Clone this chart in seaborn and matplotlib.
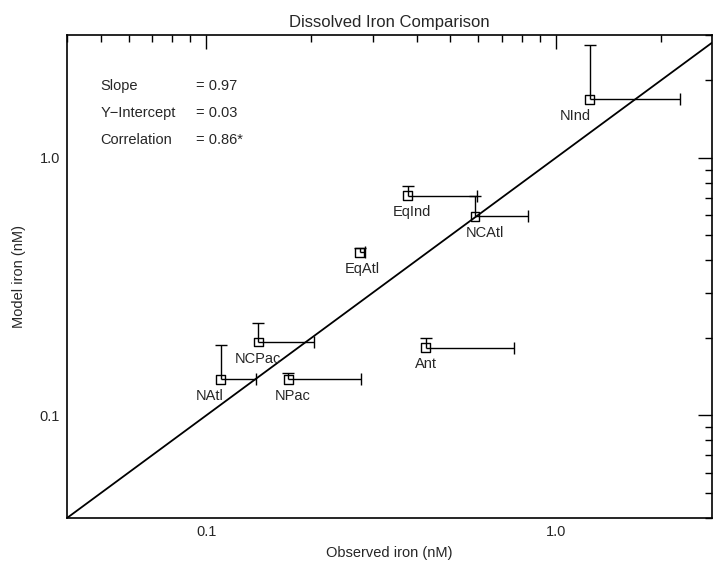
import matplotlib
matplotlib.use("Agg")
import matplotlib.pyplot as plt
import seaborn as sns
import pandas as pd
from matplotlib.ticker import LogLocator, FixedLocator, FixedFormatter, NullFormatter

# ---- data ----
regions = ["NAtl", "NCPac", "NPac", "EqAtl", "EqInd", "NCAtl", "Ant", "NInd"]
observed = [0.110, 0.141, 0.172, 0.275, 0.377, 0.588, 0.425, 1.25]
model = [0.138, 0.193, 0.138, 0.430, 0.714, 0.594, 0.1835, 1.69]
model_upper = [0.187, 0.229, 0.146, 0.445, 0.781, 0.714, 0.2005, 2.74]
observed_upper = [0.139, 0.204, 0.277, 0.285, 0.597, 0.836, 0.76, 2.27]
label_dx = [-8, 0, 3, 2, 3, 7, 0, -10]  # points offset for labels
line_vals = [0.04, 2.8]
stats_names = ["Slope", "Y\u2212Intercept", "Correlation"]
stats_vals = ["= 0.97", "= 0.03", "= 0.86*"]
xticks = [0.1, 1.0]
xticklabels = ["0.1", "1.0"]
yticks = [0.1, 1.0]
yticklabels = ["0.1", "1.0"]

df = pd.DataFrame({"region": regions, "observed": observed, "model": model,
                   "mup": model_upper, "oup": observed_upper})

sns.set_style("white")
plt.rcParams["font.family"] = ["Liberation Sans", "DejaVu Sans"]

fig = plt.figure(figsize=(7.13, 5.63), dpi=100)
ax = fig.add_axes([67/713, 45/563, (712-67)/713, (518-35)/563])

ax.set_xscale("log")
ax.set_yscale("log")
ax.set_xlim(0.04, 2.8)
ax.set_ylim(0.04, 3.0)

# 1:1 line
ax.plot(line_vals, line_vals, color="black", lw=1.3, zorder=2)

# error bars (one-sided)
ax.vlines(df["observed"], df["model"], df["mup"], color="black", lw=1.0, zorder=3)
ax.hlines(df["model"], df["observed"], df["oup"], color="black", lw=1.0, zorder=3)
ax.plot(df["observed"], df["mup"], ls="none", marker="_", ms=9, mew=1.0, color="black", zorder=3)
ax.plot(df["oup"], df["model"], ls="none", marker="|", ms=9, mew=1.0, color="black", zorder=3)

sns.scatterplot(data=df, x="observed", y="model", marker="s", s=40,
                facecolor="none", edgecolor="black", linewidth=1.0, ax=ax, zorder=4)

for r, xo, ym, dx in zip(regions, observed, model, label_dx):
    ax.annotate(r, (xo, ym), xytext=(dx, -7), textcoords="offset points",
                ha="center", va="top", fontsize=10.5)

# statistics text
for i, (n, v) in enumerate(zip(stats_names, stats_vals)):
    ax.text(0.052, 0.895 - i * 0.056, n, transform=ax.transAxes, fontsize=10.5, va="center")
    ax.text(0.200, 0.895 - i * 0.056, v, transform=ax.transAxes, fontsize=10.5, va="center")

ax.xaxis.set_major_locator(FixedLocator(xticks))
ax.xaxis.set_major_formatter(FixedFormatter(xticklabels))
ax.yaxis.set_major_locator(FixedLocator(yticks))
ax.yaxis.set_major_formatter(FixedFormatter(yticklabels))
ax.xaxis.set_minor_locator(LogLocator(base=10, subs=range(2, 10)))
ax.yaxis.set_minor_locator(LogLocator(base=10, subs=range(2, 10)))
ax.xaxis.set_minor_formatter(NullFormatter())
ax.yaxis.set_minor_formatter(NullFormatter())
ax.tick_params(which="both", direction="in", top=True, right=True, labelsize=10.5, color="black")
ax.tick_params(which="major", length=10, width=1.0, pad=5)
ax.tick_params(which="minor", length=5, width=1.0)
for s in ax.spines.values():
    s.set_visible(True)
    s.set_color("black")
    s.set_linewidth(1.2)

ax.set_xlabel("Observed iron (nM)", fontsize=10.5, labelpad=5)
ax.set_ylabel("Model iron (nM)", fontsize=10.5, labelpad=10)
ax.set_title("Dissolved Iron Comparison", fontsize=12, pad=6)

fig.savefig("out.png", dpi=100)
